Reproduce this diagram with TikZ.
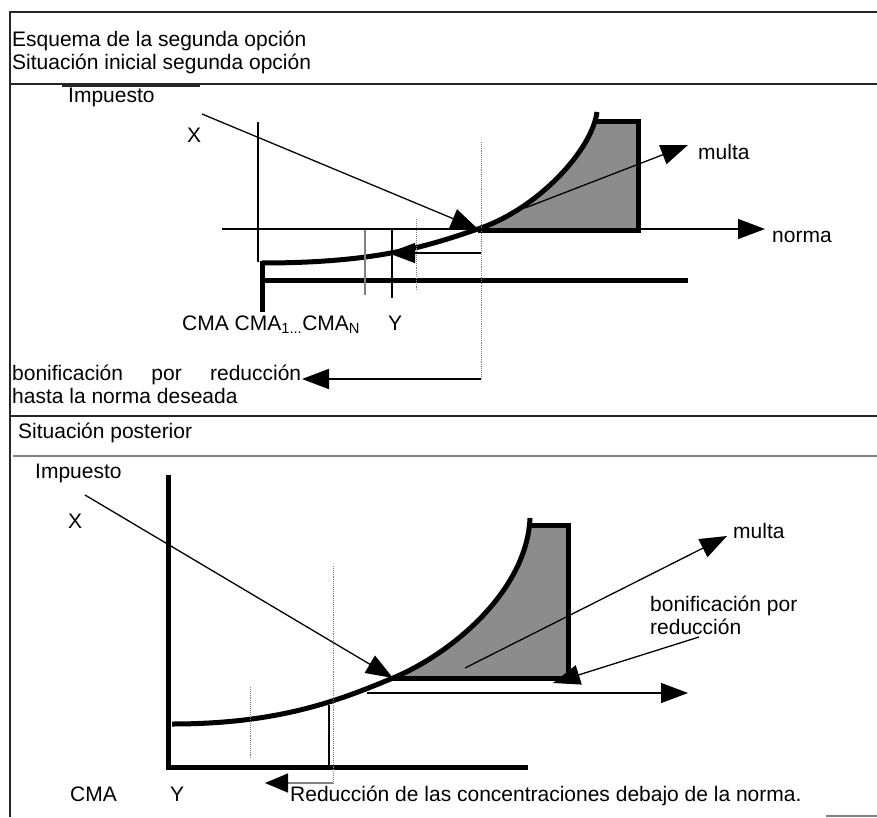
\documentclass[tikz,border=0pt]{standalone}
\usepackage{fontspec}
\setmainfont{Liberation Sans}
\usetikzlibrary{arrows.meta}
\definecolor{boxgray}{HTML}{8C8C8C}

\begin{document}
\begin{tikzpicture}[x=1pt,y=-1pt,
		lbl/.style={anchor=base west,inner sep=0pt,font=\fontsize{21}{23}\selectfont},
		frame/.style={line width=1.4pt,black!85},
		thinl/.style={line width=1.3pt},
		thickl/.style={line width=5pt},
		dotl/.style={densely dotted,line width=0.9pt,gray},
		tip/.style={-{Triangle[length=27pt,width=20pt]}},
		smalltip/.style={-{Triangle[length=23pt,width=19pt,color=black]}}]
		\useasboundingbox (0,0) rectangle (877,818);
		\draw[frame] (877,12) -- (10,12) -- (10,817);
		\draw[frame] (10,84) -- (877,84);
		\draw[frame] (62,86) -- (200,86);
		\draw[frame] (10,416) -- (877,416);
		\draw[frame,gray] (13,456) -- (877,456);
		\draw[frame,gray] (826,816) -- (877,816);
		\node[lbl] (esq) at (12,47) {Esquema de la segunda opción};
		\node[lbl] (ini) at (12,70) {Situación inicial segunda opción};
		\node[lbl] (post) at (18,438) {Situación posterior};

		\coordinate (O1) at (262,263);
		\coordinate (N1) at (478,229);
		\coordinate (T1) at (597,112);
		\coordinate (X1) at (202,114);
		\coordinate (A1) at (222,229);
		\coordinate (A1e) at (765,229);
		\coordinate (M1) at (525,208);
		\coordinate (M1e) at (688,145);
		\coordinate (R1) at (481,253);
		\coordinate (R1e) at (388,253);
		\coordinate (B1) at (481,379);
		\coordinate (B1e) at (302,379);
		\fill[boxgray] (N1) .. controls (538,209) and (592,150) .. (T1) -- (597,122) -- (638,122) -- (638,231) -- (478,231) -- cycle;
		\draw[thickl] (597,122) -- (638,122) -- (638,231) -- (478,231);
		\draw[thickl] (O1) .. controls (380,263) and (430,245) .. (N1) .. controls (538,209) and (592,150) .. (T1);
		\draw[line width=1.8pt] (258,122) -- (258,262);
		\draw[thickl] (262,261) -- (262,312);
		\draw[thickl] (262,280) -- (688,280);
		\draw[thinl,gray] (365,229) -- (365,295);
		\draw[line width=2pt] (392,229) -- (392,298);
		\draw[dotl] (416,219) -- (416,290);
		\draw[dotl] (481,142) -- (B1);
		\draw[thinl,tip] (A1) -- (A1e);
		\draw[thinl,tip] (X1) -- (N1);
		\draw[thinl,tip] (M1) -- (M1e);
		\draw[thinl,tip] (R1) -- (R1e);
		\draw[line width=1.8pt,tip] (B1) -- (B1e);
		\node[lbl] (imp1) at (68,103) {Impuesto};
		\node[lbl] (x1) at (187,143) {X};
		\node[lbl] (multa1) at (698,160) {multa};
		\node[lbl] (norma1) at (772,242) {norma};
		\node[lbl] (cma1) at (182,330) {CMA CMA\textsubscript{1...}CMA\textsubscript{N}};
		\node[lbl] (y1) at (388,330) {Y};
		\node[lbl,align=left] (bon1) at (12,403) {\makebox[289pt][s]{bonificación por reducción}\\hasta la norma deseada};

		\coordinate (O2) at (172,724);
		\coordinate (N2) at (393,678);
		\coordinate (T2) at (530,518);
		\coordinate (X2) at (85,495);
		\coordinate (A2) at (367,693);
		\coordinate (A2e) at (688,693);
		\coordinate (M2) at (465,668);
		\coordinate (M2e) at (727,536);
		\coordinate (B2) at (699,637);
		\coordinate (B2e) at (553,683);
		\coordinate (R2) at (333,783);
		\coordinate (R2e) at (265,783);
		\fill[boxgray] (N2) .. controls (453,653) and (527,590) .. (T2) -- (530,525) -- (568,525) -- (568,678) -- (393,678) -- cycle;
		\draw[thickl] (530,525) -- (568,525) -- (568,678) -- (393,678);
		\draw[thickl] (O2) .. controls (280,724) and (340,700) .. (N2) .. controls (453,653) and (527,590) .. (T2);
		\draw[thickl] (168,475) -- (168,769);
		\draw[thickl] (166,767) -- (528,767);
		\draw[thinl] (329,705) -- (329,767);
		\draw[dotl] (250,687) -- (250,758);
		\draw[dotl] (333,566) -- (R2);
		\draw[thinl,tip] (A2) -- (A2e);
		\draw[thinl,tip] (X2) -- (N2);
		\draw[thinl,tip] (M2) -- (M2e);
		\draw[thinl,tip] (B2) -- (B2e);
		\draw[thinl,gray,smalltip] (R2) -- (R2e);
		\node[lbl] (imp2) at (35,478) {Impuesto};
		\node[lbl] (x2) at (68,528) {X};
		\node[lbl] (multa2) at (733,538) {multa};
		\node[lbl,align=left] (bon2) at (650,634) {bonificación por\\reducción};
		\node[lbl] (cma2) at (70,801) {CMA};
		\node[lbl] (y2) at (170,801) {Y};
		\node[lbl] (red2) at (290,801) {Reducción de las concentraciones debajo de la norma.};
	\end{tikzpicture}
\end{document}
